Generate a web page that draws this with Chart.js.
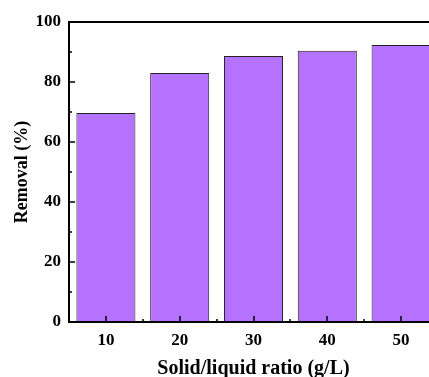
<!DOCTYPE html>
<html>
<head>
<meta charset="utf-8">
<script src="https://cdn.jsdelivr.net/npm/chart.js@4"></script>
<style>
  html, body { margin: 0; padding: 0; background: #fff; overflow: hidden; }
  #wrap { width: 440px; height: 377px; }
</style>
</head>
<body>
<div id="wrap"><canvas id="myChart"></canvas></div>
<script>
const ratios = ['10', '20', '30', '40', '50'];
const removal = [69.7, 83.0, 88.7, 90.4, 92.3];
const yTicks = [0, 20, 40, 60, 80, 100];

const fontFam = '"Liberation Serif", "Times New Roman", serif';

// frame and inward ticks
const frameTicks = {
    id: 'frameTicks',
    afterDatasetsDraw(chart) {
        const { ctx, chartArea: a, scales: { x, y } } = chart;
        ctx.save();
        ctx.strokeStyle = '#000';
        ctx.lineWidth = 2;
        ctx.beginPath();
        ctx.moveTo(a.left, a.top);
        ctx.lineTo(a.right + 5, a.top);
        ctx.moveTo(a.left, a.top - 1);
        ctx.lineTo(a.left, a.bottom);
        ctx.lineTo(a.right + 5, a.bottom);
        ctx.stroke();
        ctx.lineWidth = 1.5;
        ctx.beginPath();
        for (let v = 0; v <= 100; v += 10) {
            const py = Math.round(y.getPixelForValue(v));
            const len = v % 20 === 0 ? 6 : 3;
            ctx.moveTo(a.left, py);
            ctx.lineTo(a.left + len, py);
        }
        ratios.forEach((r, i) => {
            const px = Math.round(x.getPixelForValue(i));
            ctx.moveTo(px, a.bottom);
            ctx.lineTo(px, a.bottom - 6);
            const mx = Math.round(x.getPixelForValue(i + 0.5));
            ctx.moveTo(mx, a.bottom);
            ctx.lineTo(mx, a.bottom - 3);
        });
        ctx.stroke();
        ctx.restore();
    }
};

new Chart(document.getElementById('myChart'), {
    type: 'bar',
    data: {
        labels: ratios,
        datasets: [
            {
                label: 'Removal',
                data: removal,
                backgroundColor: 'rgb(181, 114, 255)',
                borderColor: '#222',
                borderWidth: 1,
                barPercentage: 0.8,
                categoryPercentage: 1.0
            }
        ]
    },
    options: {
        responsive: true,
        maintainAspectRatio: false,
        animation: false,
        layout: { padding: { top: 22, right: 2, left: 0, bottom: 0 } },
        plugins: { legend: { display: false }, tooltip: { enabled: false } },
        scales: {
            x: {
                grid: { display: false },
                border: { display: false },
                ticks: { color: '#000', font: { family: fontFam, size: 17, weight: 'bold' }, padding: 0 },
                title: { display: true, text: 'Solid/liquid ratio (g/L)', color: '#000',
                         font: { family: fontFam, size: 20, weight: 'bold' }, padding: { top: 0, bottom: -4 } },
                afterFit(scale) { scale.height = 55; }
            },
            y: {
                min: 0,
                max: 100,
                afterBuildTicks(scale) { scale.ticks = yTicks.map(v => ({ value: v })); },
                grid: { display: false },
                border: { display: false },
                ticks: { color: '#000', font: { family: fontFam, size: 17, weight: 'bold' }, padding: 0 },
                title: { display: true, text: 'Removal (%)', color: '#000',
                         font: { family: fontFam, size: 18, weight: 'bold' }, padding: { bottom: 0, top: 12 } },
                afterFit(scale) { scale.width = 69; }
            }
        }
    },
    plugins: [frameTicks]
});
</script>
</body>
</html>
